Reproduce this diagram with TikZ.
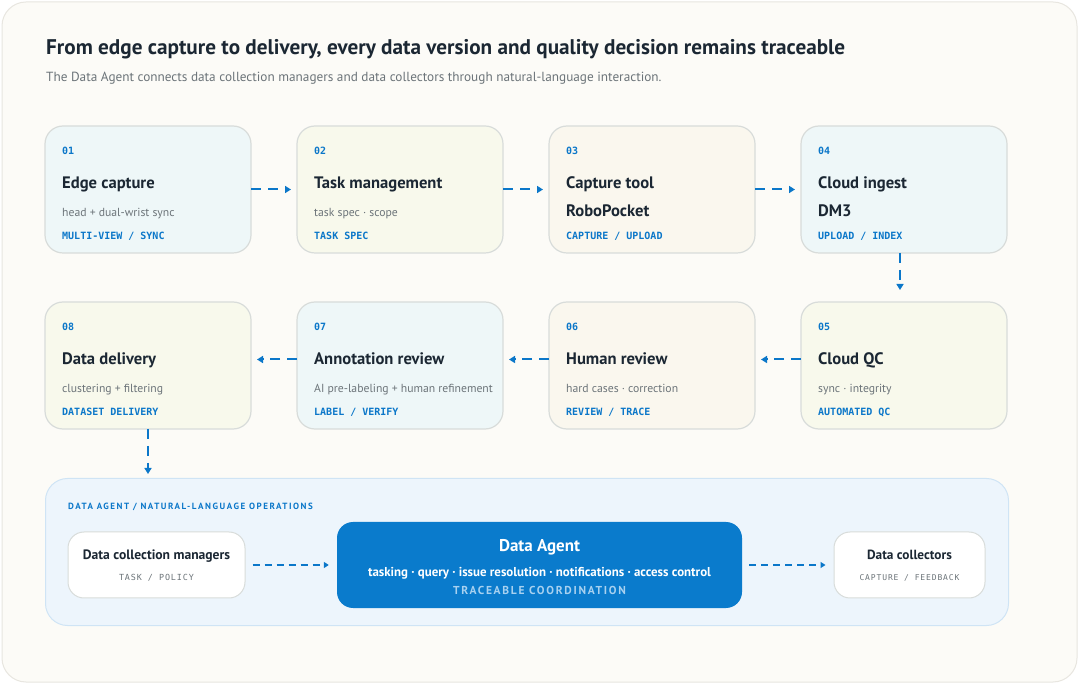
\documentclass[tikz,border=0pt]{standalone}
\usepackage{fontspec}
\setmainfont{PT Sans}
\setmonofont{DejaVu Sans Mono}
\newfontfamily\capsfont[LetterSpace=15]{PT Sans}
\newfontfamily\widecapsfont[LetterSpace=17]{PT Sans}
\newfontfamily\spacedmono[LetterSpace=11]{DejaVu Sans Mono}
\usetikzlibrary{positioning,arrows.meta}

\definecolor{paper}{HTML}{FCFBF7}
\definecolor{rim}{HTML}{E8E6E0}
\definecolor{edge}{HTML}{D8DCDA}
\definecolor{ink}{HTML}{1B2733}
\definecolor{muted}{HTML}{6C7479}
\definecolor{accent}{HTML}{0B77C9}
\definecolor{cyanbg}{HTML}{EEF7F8}
\definecolor{limebg}{HTML}{F8F9EC}
\definecolor{creambg}{HTML}{FAF7EE}
\definecolor{opsbg}{HTML}{EDF5FC}
\definecolor{opsrim}{HTML}{CFE4F5}
\definecolor{agentbg}{HTML}{0A7BCC}
\definecolor{agentsub}{HTML}{A8D1F0}

% one pipeline card: name, placement, fill, number, title, style of line 3, line 3, tag
\newcommand\card[8]{%
  \node[card, fill=#3, #2] (#1) {};
  \node[numtxt] (#1n) at ([xshift=17pt,yshift=-28.5pt]#1.north west) {#4};
  \node[titletxt] (#1t) at ([xshift=17pt,yshift=-63pt]#1.north west) {#5};
  \node[#6] (#1s) at ([xshift=17pt,yshift=-91pt]#1.north west) {#7};
  \node[tagtxt] (#1g) at ([xshift=17pt,yshift=-113.5pt]#1.north west) {#8};
}

\begin{document}
\begin{tikzpicture}[x=1pt, y=-1pt,
  card/.style={draw=edge, line width=1.2pt, rounded corners=18pt,
    minimum width=206pt, minimum height=127pt, inner sep=0pt, outer sep=0pt},
  numtxt/.style={anchor=base west, inner sep=0pt, text=accent,
    font=\ttfamily\bfseries\fontsize{10}{12}\selectfont},
  tagtxt/.style={numtxt},
  titletxt/.style={anchor=base west, inner sep=0pt, text=ink,
    font=\bfseries\fontsize{16.6}{19}\selectfont},
  subtxt/.style={anchor=base west, inner sep=0pt, text=muted,
    font=\fontsize{11.7}{14}\selectfont},
  whitebox/.style={draw=edge, fill=white, line width=1pt, rounded corners=16pt,
    minimum height=66pt, inner sep=0pt},
  flow/.style={draw=accent, line width=2pt, dash pattern=on 10pt off 7pt,
    -{Triangle[length=6pt,width=7pt]}, shorten >=6pt},
  link/.style={draw=accent, line width=1.6pt, dash pattern=on 7pt off 5pt,
    -{Triangle[length=5pt,width=6pt]}, shorten <=7pt, shorten >=8pt}
]
\useasboundingbox (0,0) rectangle (1080,684);
\fill[white] (0,0) rectangle (1080,684);
\draw[fill=paper, draw=rim, line width=1pt, rounded corners=24pt] (2,2) rectangle (1077,682);

\node[anchor=base west, inner sep=0pt, text=ink, font=\bfseries\fontsize{21.2}{25}\selectfont]
  (head) at (46,54.5) {From edge capture to delivery, every data version and quality decision remains traceable};
\node[anchor=base west, inner sep=0pt, text=muted, font=\fontsize{13.25}{16}\selectfont]
  (intro) at (46,82) {The Data Agent connects data collection managers and data collectors through natural-language interaction.};

% pipeline, row one left to right, row two right to left
\card{c1}{at={(148,189.5)}}{cyanbg}{01}{Edge capture}{subtxt}{head + dual-wrist sync}{MULTI-VIEW / SYNC}
\card{c2}{right=46pt of c1}{limebg}{02}{Task management}{subtxt}{task spec · scope}{TASK SPEC}
\card{c3}{right=46pt of c2}{creambg}{03}{Capture tool}{titletxt}{RoboPocket}{CAPTURE / UPLOAD}
\card{c4}{right=46pt of c3}{cyanbg}{04}{Cloud ingest}{titletxt}{DM3}{UPLOAD / INDEX}
\card{c5}{below=49pt of c4}{limebg}{05}{Cloud QC}{subtxt}{sync · integrity}{AUTOMATED QC}
\card{c6}{left=46pt of c5}{creambg}{06}{Human review}{subtxt}{hard cases · correction}{REVIEW / TRACE}
\card{c7}{left=46pt of c6}{cyanbg}{07}{Annotation review}{subtxt}{AI pre-labeling + human refinement}{LABEL / VERIFY}
\card{c8}{left=46pt of c7}{limebg}{08}{Data delivery}{subtxt}{clustering + filtering}{DATASET DELIVERY}

\path (c1) edge[flow] (c2);
\path (c2) edge[flow] (c3);
\path (c3) edge[flow] (c4);
\path ([xshift=-4pt]c4.south) edge[flow, shorten >=12pt] ([xshift=-4pt]c5.north);
\path ([yshift=6pt]c5.west) edge[flow] ([yshift=6pt]c6.east);
\path ([yshift=6pt]c6.west) edge[flow] ([yshift=6pt]c7.east);
\path ([yshift=6pt]c7.west) edge[flow] ([yshift=6pt]c8.east);

% natural-language operations
\node[draw=opsrim, fill=opsbg, line width=1pt, rounded corners=22pt, anchor=north west,
  minimum width=963pt, minimum height=147pt, inner sep=0pt] (ops) at ([yshift=-49pt]c8.south west) {};
\path (c8.south) edge[flow, shorten >=4pt] (c8.south |- ops.north);
\node[anchor=base west, inner sep=0pt, text=accent, font=\widecapsfont\bfseries\fontsize{9}{11}\selectfont]
  (opsl) at ([xshift=23pt,yshift=-31.5pt]ops.north west) {DATA AGENT / NATURAL-LANGUAGE OPERATIONS};

\node[whitebox, minimum width=177pt] (mgr) at (156.5,565) {};
\node[draw=none, fill=agentbg, rounded corners=16pt, minimum width=405pt, minimum height=86pt,
  inner sep=0pt] (agent) at (539.5,565) {};
\node[whitebox, minimum width=151pt] (col) at (909.5,565) {};

\node[anchor=base, inner sep=0pt, text=ink, font=\bfseries\fontsize{13.6}{16}\selectfont]
  (mgrt) at ([yshift=-28pt]mgr.north) {Data collection managers};
\node[anchor=base, inner sep=0pt, text=muted, font=\spacedmono\fontsize{8.4}{10}\selectfont]
  (mgrg) at ([yshift=-49pt]mgr.north) {TASK / POLICY};
\node[anchor=base, inner sep=0pt, text=white, font=\bfseries\fontsize{17}{20}\selectfont]
  (agentt) at ([yshift=-30pt]agent.north) {Data Agent};
\node[anchor=base, inner sep=0pt, text=white, font=\bfseries\fontsize{12.9}{15}\selectfont]
  (agents) at ([yshift=-55pt]agent.north) {tasking · query · issue resolution · notifications · access control};
\node[anchor=base, inner sep=0pt, text=agentsub, font=\capsfont\bfseries\fontsize{11.5}{13}\selectfont]
  (agentg) at ([yshift=-73pt]agent.north) {TRACEABLE COORDINATION};
\node[anchor=base, inner sep=0pt, text=ink, font=\bfseries\fontsize{13.3}{16}\selectfont]
  (colt) at ([yshift=-28pt]col.north) {Data collectors};
\node[anchor=base, inner sep=0pt, text=muted, font=\spacedmono\fontsize{8}{10}\selectfont]
  (colg) at ([yshift=-49pt]col.north) {CAPTURE / FEEDBACK};

\path (mgr) edge[link] (agent);
\path (agent) edge[link] (col);
\end{tikzpicture}
\end{document}
